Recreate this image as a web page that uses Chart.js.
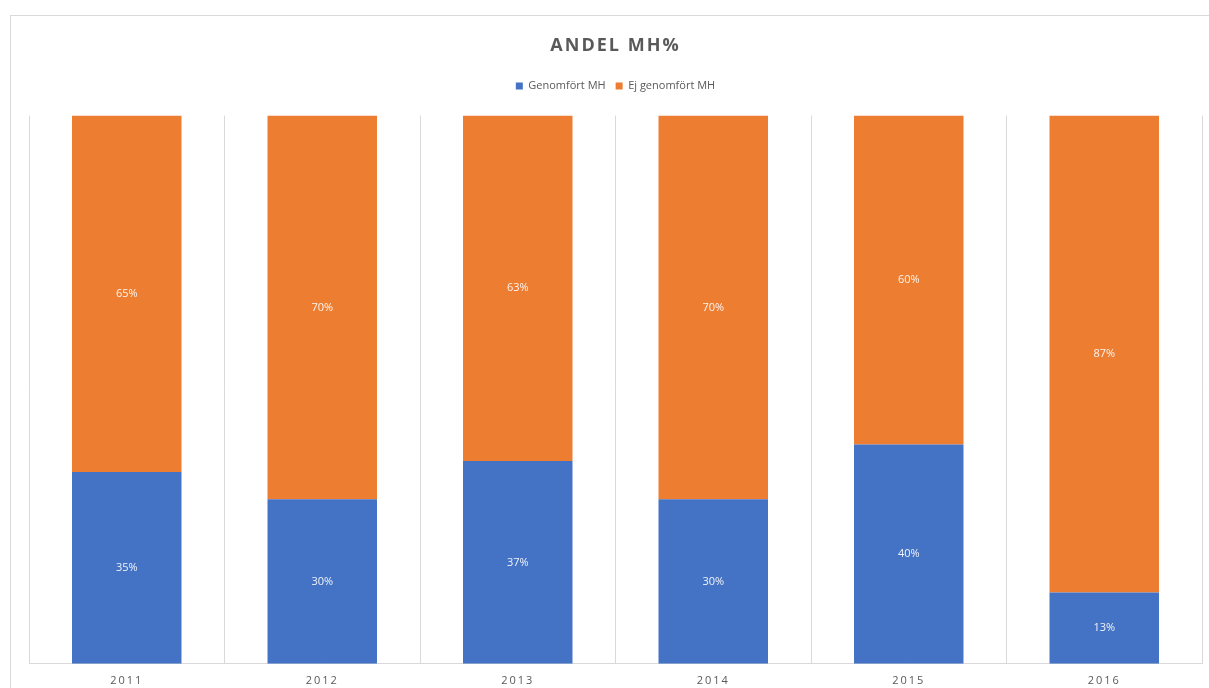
<!DOCTYPE html>
<html>
<head>
<meta charset="utf-8">
<script src="https://cdn.jsdelivr.net/npm/chart.js@4"></script>
<style>
  html, body { margin: 0; padding: 0; background: #fff; overflow: hidden; }
  #frame { position: absolute; left: 10px; top: 15px; width: 1400px; height: 900px; border: 1px solid #d9d9d9; }
  #wrap { position: absolute; left: 0; top: 0; width: 1209px; height: 688px; }
</style>
</head>
<body>
<div id="frame"></div>
<div id="wrap"><canvas id="graph"></canvas></div>
<script>
const years = ['2011', '2012', '2013', '2014', '2015', '2016'];
const genomfort = [35, 30, 37, 30, 40, 13];
const ejGenomfort = [65, 70, 63, 70, 60, 87];

const textColor = '#595959';
const fontFam = "'Open Sans', 'Liberation Sans', sans-serif";

// spread letters for title and axis labels, plain for legend and bar labels
const spacing = {
    id: 'spacing',
    afterInit(chart) {
        const lg = chart.legend;
        const fit = lg.fit;
        lg.fit = function () { fit.call(this); this.height += 14; };
        const draw = lg.draw;
        lg.draw = function () {
            const ctx = chart.ctx;
            const old = ctx.letterSpacing;
            ctx.letterSpacing = '0px';
            draw.call(this);
            ctx.letterSpacing = old;
        };
    },
    beforeDraw(chart) { chart.ctx.letterSpacing = '2px'; },
    beforeDatasetsDraw(chart) { chart.ctx.letterSpacing = '0px'; }
};

const barLabels = {
    id: 'barLabels',
    afterDatasetsDraw(chart) {
        const ctx = chart.ctx;
        ctx.save();
        ctx.letterSpacing = '0px';
        ctx.font = '11px ' + fontFam;
        ctx.fillStyle = 'rgba(255,255,255,0.92)';
        ctx.textAlign = 'center';
        ctx.textBaseline = 'middle';
        chart.data.datasets.forEach((ds, i) => {
            chart.getDatasetMeta(i).data.forEach((bar, j) => {
                const p = bar.getProps(['x', 'y', 'base'], true);
                ctx.fillText(ds.data[j] + '%', p.x, (p.y + p.base) / 2);
            });
        });
        ctx.restore();
    }
};

const myChart = new Chart(document.getElementById('graph').getContext('2d'), {
    type: 'bar',
    data: {
        labels: years,
        datasets: [{
            label: 'Genomfört MH',
            data: genomfort,
            backgroundColor: '#4472C4',
            borderWidth: 0
        }, {
            label: 'Ej genomfört MH',
            data: ejGenomfort,
            backgroundColor: '#ED7D31',
            borderWidth: 0
        }]
    },
    options: {
        responsive: true,
        maintainAspectRatio: false,
        animation: false,
        layout: { padding: { left: 29, right: 7, top: 0, bottom: -9 } },
        datasets: { bar: { categoryPercentage: 0.56, barPercentage: 1 } },
        scales: {
            x: {
                stacked: true,
                grid: { color: '#d9d9d9', drawTicks: false, offset: true },
                border: { color: '#d9d9d9' },
                ticks: { color: textColor, font: { family: fontFam, size: 11 }, padding: 10 }
            },
            y: {
                stacked: true,
                min: 0,
                max: 100,
                display: false
            }
        },
        plugins: {
            title: {
                display: true,
                text: 'ANDEL MH%',
                color: textColor,
                font: { family: fontFam, size: 18, weight: 'bold' },
                padding: { top: 35, bottom: 14 }
            },
            legend: {
                labels: {
                    color: textColor,
                    font: { family: fontFam, size: 11 },
                    boxWidth: 7,
                    boxHeight: 7,
                    padding: 10
                }
            },
            tooltip: { enabled: false }
        }
    },
    plugins: [spacing, barLabels]
});
</script>
</body>
</html>
